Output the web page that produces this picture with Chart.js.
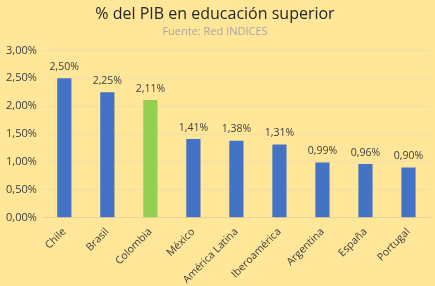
<!DOCTYPE html>
<html><head><meta charset="utf-8">
<script src="https://cdn.jsdelivr.net/npm/chart.js@4/dist/chart.umd.min.js"></script>
<style>html,body{margin:0;padding:0;background:#FFE699;}#wrap{width:435px;height:286px;}</style>
</head><body><div id="wrap"><canvas id="c"></canvas></div>
<script>
const categories = ["Chile","Brasil","Colombia","México","América Latina","Iberoamérica","Argentina","España","Portugal"];
const values = [2.50,2.25,2.11,1.41,1.38,1.31,0.99,0.96,0.90];
const barColors = ["#4472C4","#4472C4","#92D050","#4472C4","#4472C4","#4472C4","#4472C4","#4472C4","#4472C4"];
const yTicks = [0,0.5,1,1.5,2,2.5,3];
const fmt = v => v.toFixed(2).replace('.', ',') + '%';
const FONT = "'Open Sans', 'Liberation Sans', sans-serif";

const labelPlugin = {
  id: 'barLabels',
  afterDatasetsDraw(chart) {
    const ctx = chart.ctx;
    const meta = chart.getDatasetMeta(0);
    ctx.save();
    ctx.font = "10.5px " + FONT;
    ctx.fillStyle = "#404040";
    ctx.textAlign = "center";
    ctx.textBaseline = "bottom";
    meta.data.forEach((bar, i) => {
      ctx.fillText(fmt(values[i]), bar.x, bar.y - 6);
    });
    ctx.restore();
  }
};

new Chart(document.getElementById('c'), {
  type: 'bar',
  data: { labels: categories, datasets: [{ data: values, backgroundColor: barColors, barPercentage: 0.66, categoryPercentage: 0.5 }] },
  options: {
    responsive: true, maintainAspectRatio: false, animation: false,
    layout: { padding: { left: 0, right: 5, top: 3, bottom: 0 } },
    plugins: {
      legend: { display: false }, tooltip: { enabled: false },
      title: { display: true, text: "% del PIB en educación superior", color: "#262626", font: { family: FONT, size: 16, weight: 'normal' }, padding: { top: 2, bottom: 0 } },
      subtitle: { display: true, text: "Fuente: Red INDICES", color: "#A6A6A6", font: { family: FONT, size: 11 }, padding: { top: 1, bottom: 12 } }
    },
    scales: {
      y: {
        min: 0, max: 3,
        afterBuildTicks: ax => { ax.ticks = yTicks.map(v => ({ value: v })); },
        ticks: { callback: v => fmt(v), color: "#404040", font: { family: FONT, size: 11 }, padding: 6 },
        grid: { color: "#F2DDA6", drawTicks: false },
        border: { display: false }
      },
      x: {
        ticks: { maxRotation: 45, minRotation: 45, color: "#404040", font: { family: FONT, size: 10.5 }, padding: 0 },
        grid: { display: false },
        border: { display: true, color: "#E8D39A" }
      }
    }
  },
  plugins: [labelPlugin]
});
</script></body></html>
